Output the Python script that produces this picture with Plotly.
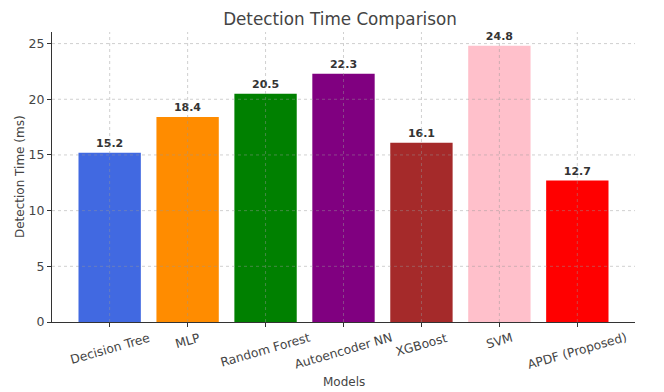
import plotly.graph_objects as go

models = ["Decision Tree", "MLP", "Random Forest", "Autoencoder NN", "XGBoost", "SVM", "APDF (Proposed)"]
times = [15.2, 18.4, 20.5, 22.3, 16.1, 24.8, 12.7]
colors = ["royalblue", "darkorange", "green", "purple", "brown", "pink", "red"]
y_ticks = [0, 5, 10, 15, 20, 25]

font_family = "DejaVu Sans"
x_pos = list(range(len(models)))
x_range = [-0.74, 6.74]
y_range = [0, 26.04]
grid_col = "rgba(150,150,150,0.45)"
text_col = "#444444"

fig = go.Figure(go.Bar(
    x=x_pos,
    y=times,
    marker=dict(color=colors, line=dict(width=0)),
    width=0.8,
    text=[f"<b>{v}</b>" for v in times],
    textposition="outside",
    textfont=dict(family=font_family, size=11, color="#333333"),
    cliponaxis=False,
))

# grid drawn above bars (as in the reference)
shapes = []
for xv in x_pos:
    shapes.append(dict(type="line", xref="x", yref="paper", x0=xv, x1=xv, y0=0, y1=1,
                       line=dict(color=grid_col, width=1, dash="dot"), layer="above"))
for yv in y_ticks[1:]:
    shapes.append(dict(type="line", xref="paper", yref="y", x0=0, x1=1, y0=yv, y1=yv,
                       line=dict(color=grid_col, width=1, dash="dot"), layer="above"))

# rotated, centred tick labels
annotations = []
for xv, name in zip(x_pos, models):
    annotations.append(dict(x=xv, y=0, xref="x", yref="paper", text=name, showarrow=False,
                            textangle=-16, xanchor="center", yanchor="top", yshift=-6,
                            font=dict(family=font_family, size=12.3, color=text_col)))
# axis titles
annotations.append(dict(x=0.5, y=0, xref="paper", yref="paper", text="Models", showarrow=False,
                        xanchor="center", yanchor="middle", yshift=-60,
                        font=dict(family=font_family, size=12, color=text_col)))
annotations.append(dict(x=0, y=0.5, xref="paper", yref="paper", text="Detection Time (ms)",
                        showarrow=False, textangle=-90, xanchor="center", yanchor="middle",
                        xshift=-32, font=dict(family=font_family, size=12, color=text_col)))

fig.update_layout(
    width=664, height=392,
    margin=dict(l=44, r=37, t=24, b=78),
    paper_bgcolor="white",
    plot_bgcolor="white",
    font=dict(family=font_family, color=text_col),
    title=dict(text="Detection Time Comparison", x=0.5, xanchor="center",
               y=0.972, yanchor="middle",
               font=dict(family=font_family, size=16.8, color=text_col)),
    showlegend=False,
    shapes=shapes,
    annotations=annotations,
)

fig.update_xaxes(
    tickmode="array",
    tickvals=x_pos,
    ticktext=["" for _ in models],
    range=x_range,
    automargin=False,
    showline=True, linecolor="#333333", linewidth=1.2,
    ticks="outside", ticklen=4, tickcolor="#333333",
    showgrid=False,
    zeroline=False,
)
fig.update_yaxes(
    tickmode="array",
    tickvals=y_ticks,
    range=y_range,
    automargin=False,
    showline=True, linecolor="#333333", linewidth=1.2,
    ticks="outside", ticklen=4, tickcolor="#333333",
    showgrid=False,
    tickfont=dict(family=font_family, size=12.5, color=text_col),
    zeroline=False,
)

fig.write_html("out.html")
